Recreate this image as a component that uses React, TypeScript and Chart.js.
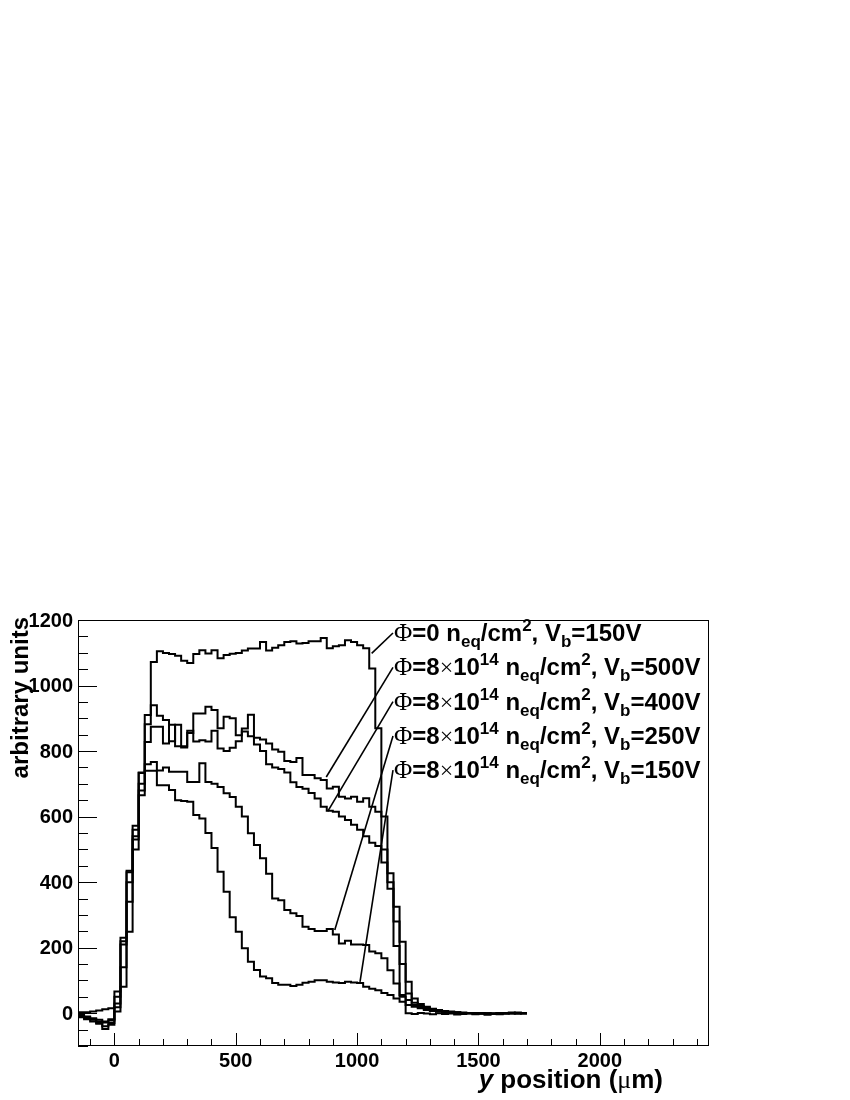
import React, { useEffect, useRef } from "react";
import { Chart, registerables } from "chart.js";

Chart.register(...registerables);

// Bin edges of the histograms (y position in µm)
const BIN_EDGES = [
  -150, -125, -100, -75, -50, -25, 0, 25, 50, 75, 100, 125, 150, 175, 200, 225, 250, 275, 300, 325,
  350, 375, 400, 425, 450, 475, 500, 525, 550, 575, 600, 625, 650, 675, 700, 725, 750, 775, 800, 825,
  850, 875, 900, 925, 950, 975, 1000, 1025, 1050, 1075, 1100, 1125, 1150, 1175, 1200, 1225, 1250,
  1275, 1300, 1325, 1350, 1375, 1400, 1425, 1450, 1475, 1500, 1525, 1550, 1575, 1600, 1625, 1650,
  1675, 1700,
];

// Φ=0, Vb=150V
const PHI0_150V = [
  3, 3, 5, 8, 12, 15,
  18, 230, 435, 572, 735, 910,
  1072, 1105, 1099, 1096, 1091, 1076, 1069, 1096, 1108, 1098, 1108, 1083,
  1093, 1097, 1099, 1107, 1113, 1113, 1133, 1107, 1115, 1123, 1133, 1135,
  1128, 1130, 1135, 1135, 1145, 1114, 1120, 1123, 1138, 1133, 1123, 1114,
  1052, 870, 460, 380, 205, 56,
  0, -2, 1, -1, -3, 0, -2, -1, -4, -2, 0, -3, -1, -5, -2, -3, 0, 2, -1, 1,
];
// Φ=8e14, Vb=500V
const PHI8_500V = [
  -8, -12, -18, -25, -28, -22,
  66, 220, 430, 560, 700, 882,
  940, 908, 895, 830, 880, 815, 855, 915, 915, 935, 925, 870,
  905, 900, 848, 869, 911, 841, 835, 823, 805, 798, 770, 767,
  779, 727, 727, 717, 712, 686, 691, 661, 655, 661, 645, 656,
  630, 615, 600, 427, 325, 218,
  96, 45, 28, 20, 14, 10, 7, 5, 3, 2, 1, 0, -1, 0, -2, -1, 0, -1, 1, 0,
];
// Φ=8e14, Vb=400V
const PHI8_400V = [
  -10, -15, -20, -30, -40, -30,
  50, 140, 340, 540, 680, 828,
  874, 874, 823, 880, 815, 811, 862, 829, 833, 829, 862, 808,
  800, 810, 830, 860, 845, 820, 800, 760, 750, 745, 735, 705,
  690, 685, 672, 655, 630, 618, 615, 600, 590, 575, 560, 540,
  520, 510, 500, 400, 280, 150,
  60, 32, 22, 16, 12, 9, 6, 4, 3, 1, 0, 1, -1, 0, -2, 0, -1, 1, 0, -1,
];
// Φ=8e14, Vb=250V
const PHI8_250V = [
  -12, -18, -25, -32, -48, -35,
  30, 210, 400, 530, 733, 760,
  767, 741, 750, 737, 737, 737, 706, 706, 763, 706, 700, 690,
  671, 660, 630, 600, 549, 513, 473, 426, 350, 345, 315, 305,
  297, 264, 257, 251, 251, 257, 240, 213, 221, 210, 210, 208,
  188, 183, 168, 131, 91, 50,
  40, 25, 18, 12, 8, 6, 4, 3, 2, 1, 0, 1, 0, -1, 0, 1, -1, 0, 2, 0,
];
// Φ=8e14, Vb=150V
const PHI8_150V = [
  -5, -10, -15, -20, -25, -18,
  5, 81, 249, 500, 665, 740,
  740, 696, 696, 681, 650, 648, 645, 605, 594, 550, 504, 432,
  371, 293, 249, 198, 157, 132, 112, 107, 92, 87, 87, 83,
  87, 93, 96, 101, 101, 96, 94, 92, 96, 94, 92, 81,
  75, 70, 62, 56, 45, 35,
  25, 20, 15, 10, 7, 5, 3, 2, 1, 0, 0, -1, 0, -2, -1, 0, 1, 0, -1, 0,
];

const SERIES = [PHI0_150V, PHI8_500V, PHI8_400V, PHI8_250V, PHI8_150V];
const SERIES_NAMES = [
  "Φ=0 neq/cm², Vb=150V",
  "Φ=8×10¹⁴ neq/cm², Vb=500V",
  "Φ=8×10¹⁴ neq/cm², Vb=400V",
  "Φ=8×10¹⁴ neq/cm², Vb=250V",
  "Φ=8×10¹⁴ neq/cm², Vb=150V",
];
const FLUENCE_MANTISSA = ["0", "8", "8", "8", "8"];
const FLUENCE_EXPONENT = ["", "14", "14", "14", "14"];
const BIAS_LABELS = ["150V", "500V", "400V", "250V", "150V"];
// points on the curves that each label line points to (µm, arbitrary units)
const POINTER_X = [1060, 873, 879, 908, 1012];
const POINTER_Y = [1098, 721, 616, 254, 96];

const X_MIN = -150;
const X_MAX = 2450;
const Y_MIN = -100;
const Y_MAX = 1200;
const X_MAJOR_TICKS = [0, 500, 1000, 1500, 2000];
const Y_MAJOR_TICKS = [0, 200, 400, 600, 800, 1000, 1200];
const X_MINOR_STEP = 100;
const Y_MINOR_STEP = 50;
const X_TITLE = ["y", " position (", "μ", "m)"];
const Y_TITLE = "arbitrary units";

const SANS = '"Liberation Sans", Arial, Helvetica, sans-serif';
const SERIF = '"Liberation Serif", "DejaVu Serif", serif';

type Seg = { t: string; font: string; dy: number };

function drawSegs(ctx: CanvasRenderingContext2D, x: number, y: number, segs: Seg[]) {
  let cx = x;
  for (const s of segs) {
    ctx.font = s.font;
    ctx.fillText(s.t, cx, y + s.dy);
    cx += ctx.measureText(s.t).width;
  }
  return cx;
}

function toSteps(values: number[]) {
  const pts = values.map((v, i) => ({ x: BIN_EDGES[i], y: v }));
  pts.push({ x: BIN_EDGES[values.length], y: values[values.length - 1] });
  return pts;
}

const decorPlugin = {
  id: "rootDecor",
  afterDraw(chart: any) {
    const { ctx, chartArea: a, scales } = chart;
    const xs = scales.x;
    const ys = scales.y;
    ctx.save();
    ctx.strokeStyle = "#000";
    ctx.fillStyle = "#000";
    ctx.lineWidth = 1;
    // frame
    ctx.strokeRect(a.left + 0.5, a.top + 0.5, a.right - a.left - 1, a.bottom - a.top - 1);

    // y ticks
    for (let v = Math.ceil(Y_MIN / Y_MINOR_STEP) * Y_MINOR_STEP; v <= Y_MAX; v += Y_MINOR_STEP) {
      const py = Math.round(ys.getPixelForValue(v)) + 0.5;
      const len = Y_MAJOR_TICKS.includes(v) ? 19 : 10;
      ctx.beginPath();
      ctx.moveTo(a.left, py);
      ctx.lineTo(a.left + len, py);
      ctx.stroke();
    }
    // x ticks
    for (let v = Math.ceil(X_MIN / X_MINOR_STEP) * X_MINOR_STEP; v <= X_MAX; v += X_MINOR_STEP) {
      const px = Math.round(xs.getPixelForValue(v)) + 0.5;
      const len = X_MAJOR_TICKS.includes(v) ? 13 : 7;
      ctx.beginPath();
      ctx.moveTo(px, a.bottom);
      ctx.lineTo(px, a.bottom - len);
      ctx.stroke();
    }

    // tick labels
    ctx.font = `bold 20px ${SANS}`;
    ctx.textAlign = "right";
    ctx.textBaseline = "middle";
    for (const v of Y_MAJOR_TICKS) {
      ctx.fillText(String(v), a.left - 5, ys.getPixelForValue(v) + 1);
    }
    ctx.textAlign = "center";
    ctx.textBaseline = "alphabetic";
    for (const v of X_MAJOR_TICKS) {
      ctx.fillText(String(v), xs.getPixelForValue(v), a.bottom + 21);
    }

    // y title
    ctx.save();
    ctx.translate(a.left - 50, a.top - 3);
    ctx.rotate(-Math.PI / 2);
    ctx.textAlign = "right";
    ctx.font = `bold 24px ${SANS}`;
    ctx.fillText(Y_TITLE, 0, 0);
    ctx.restore();

    // x title (right aligned)
    ctx.textAlign = "left";
    const titleSegs: Seg[] = [
      { t: X_TITLE[0], font: `italic bold 26px ${SANS}`, dy: 0 },
      { t: X_TITLE[1], font: `bold 26px ${SANS}`, dy: 0 },
      { t: X_TITLE[2], font: `26px ${SERIF}`, dy: 0 },
      { t: X_TITLE[3], font: `bold 26px ${SANS}`, dy: 0 },
    ];
    let w = 0;
    for (const s of titleSegs) {
      ctx.font = s.font;
      w += ctx.measureText(s.t).width;
    }
    drawSegs(ctx, 663 - w, a.bottom + 42, titleSegs);

    // labels with pointer lines
    const F = 24;
    const S = Math.round(F * 0.7);
    const textX = a.left + 316;
    for (let i = 0; i < SERIES.length; i++) {
      const base = a.top + 21 + i * 34.3;
      ctx.lineWidth = 1.6;
      ctx.beginPath();
      ctx.moveTo(xs.getPixelForValue(POINTER_X[i]), ys.getPixelForValue(POINTER_Y[i]));
      ctx.lineTo(textX - 1, base - 8);
      ctx.stroke();
      const segs: Seg[] = [{ t: "Φ", font: `${F + 1}px ${SERIF}`, dy: 0 }];
      segs.push({ t: "=" + FLUENCE_MANTISSA[i], font: `bold ${F}px ${SANS}`, dy: 0 });
      if (FLUENCE_EXPONENT[i]) {
        segs.push({ t: "×", font: `${F}px ${SERIF}`, dy: 0 });
        segs.push({ t: "10", font: `bold ${F}px ${SANS}`, dy: 0 });
        segs.push({ t: FLUENCE_EXPONENT[i], font: `bold ${S}px ${SANS}`, dy: -10 });
      }
      segs.push({ t: " n", font: `bold ${F}px ${SANS}`, dy: 0 });
      segs.push({ t: "eq", font: `bold ${S}px ${SANS}`, dy: 6 });
      segs.push({ t: "/cm", font: `bold ${F}px ${SANS}`, dy: 0 });
      segs.push({ t: "2", font: `bold ${S}px ${SANS}`, dy: -10 });
      segs.push({ t: ", V", font: `bold ${F}px ${SANS}`, dy: 0 });
      segs.push({ t: "b", font: `bold ${S}px ${SANS}`, dy: 6 });
      segs.push({ t: "=" + BIAS_LABELS[i], font: `bold ${F}px ${SANS}`, dy: 0 });
      drawSegs(ctx, textX, base, segs);
    }
    ctx.restore();
  },
};

export default function App() {
  const canvasRef = useRef<HTMLCanvasElement | null>(null);

  useEffect(() => {
    const canvas = canvasRef.current;
    if (!canvas) return;
    const chart = new Chart(canvas, {
      type: "line",
      data: {
        datasets: SERIES.map((vals, i) => ({
          label: SERIES_NAMES[i],
          data: toSteps(vals),
          stepped: "before" as const,
          borderColor: "#000",
          borderWidth: 2,
          pointRadius: 0,
          fill: false,
          tension: 0,
        })),
      },
      options: {
        responsive: false,
        animation: false,
        devicePixelRatio: 1,
        events: [],
        layout: { padding: { left: 78, right: 141, top: 620, bottom: 54 } },
        plugins: { legend: { display: false }, tooltip: { enabled: false } },
        scales: {
          x: { type: "linear", min: X_MIN, max: X_MAX, display: false },
          y: { type: "linear", min: Y_MIN, max: Y_MAX, display: false },
        },
      },
      plugins: [decorPlugin],
    });
    return () => chart.destroy();
  }, []);

  return (
    <div style={{ position: "absolute", left: 0, top: 0, width: 850, height: 1100, background: "#fff" }}>
      <canvas ref={canvasRef} width={850} height={1100} style={{ display: "block" }} />
    </div>
  );
}
